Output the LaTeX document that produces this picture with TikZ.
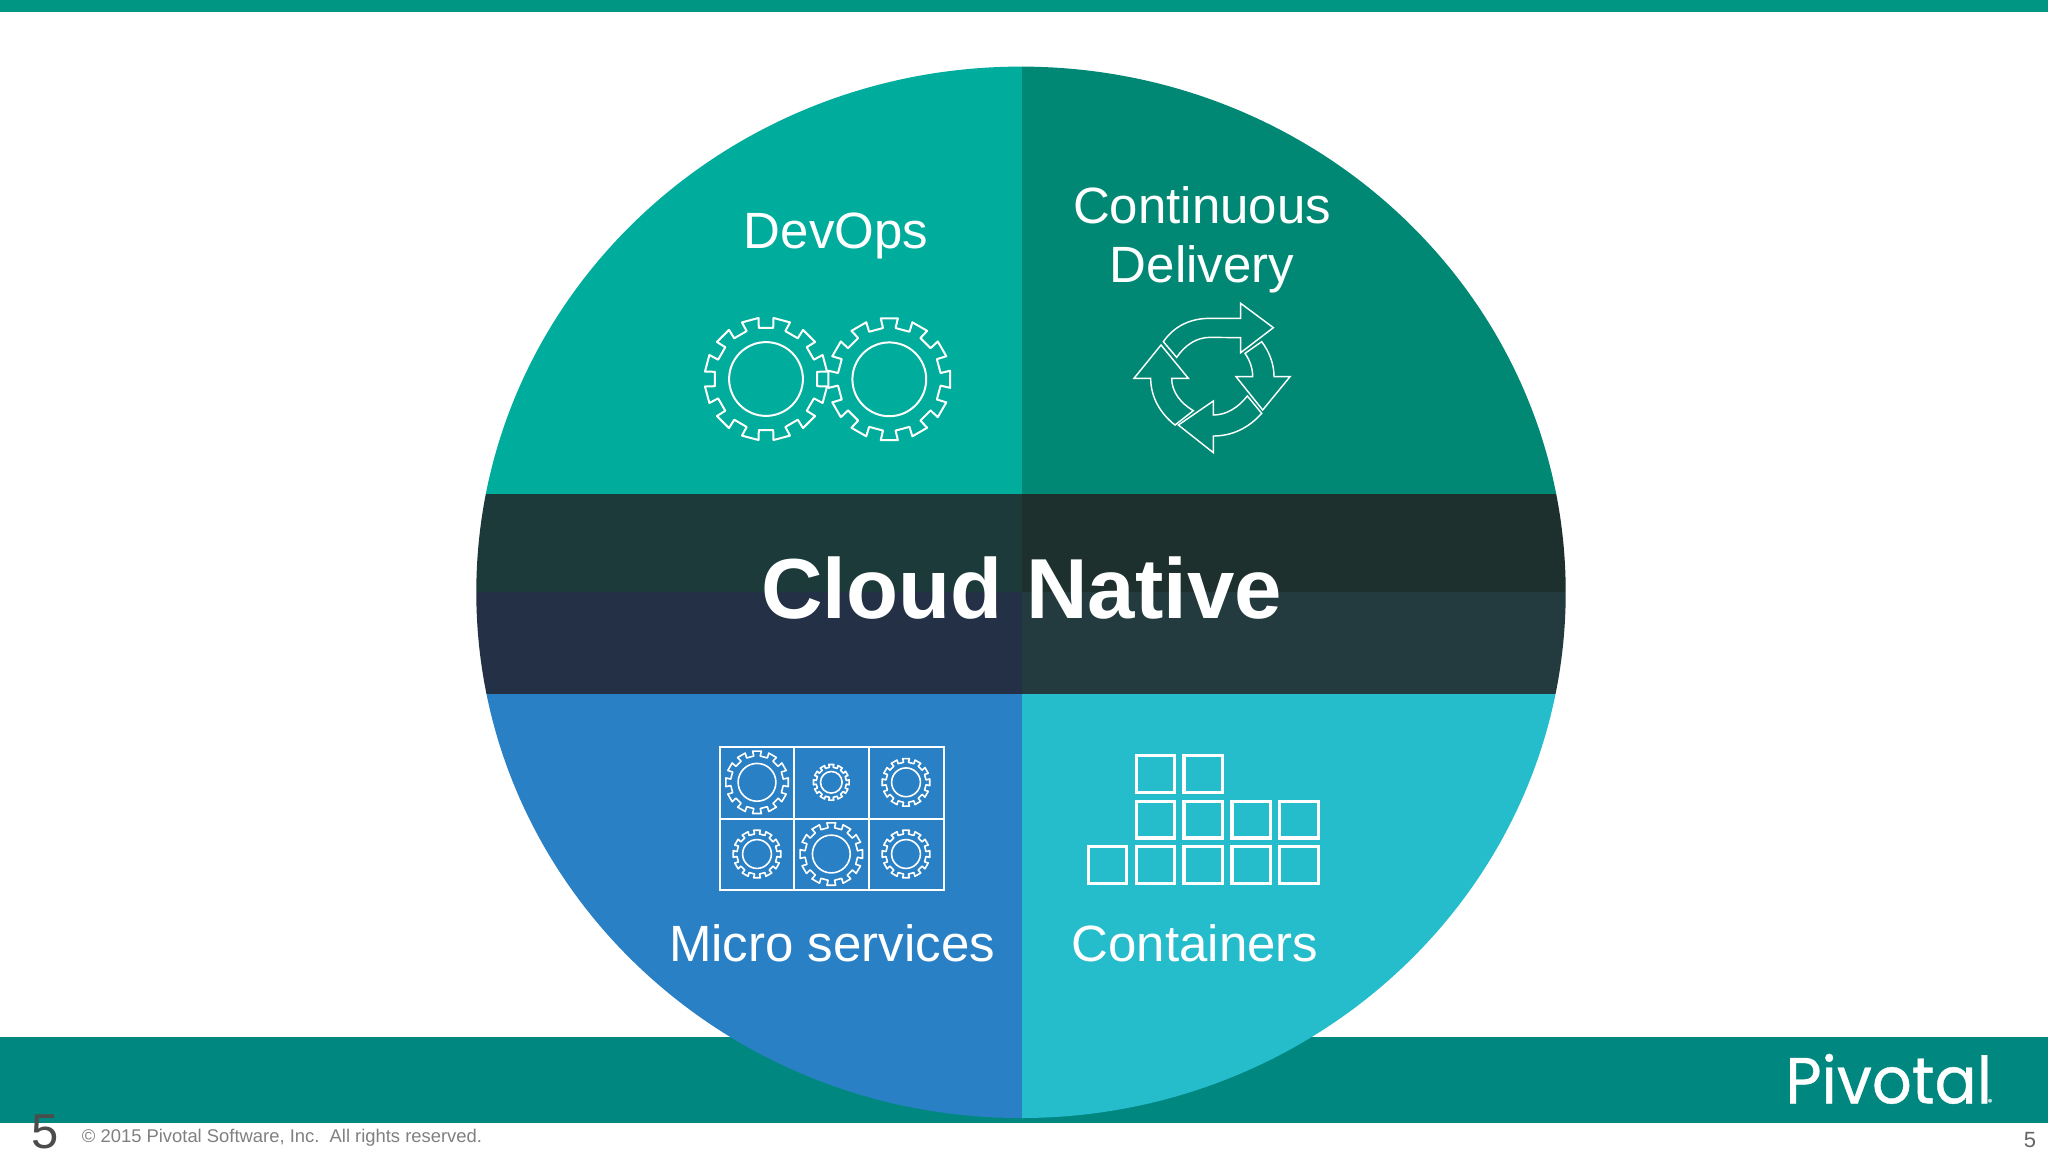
\documentclass[tikz,border=0pt]{standalone}
\usepackage{fontspec}
\setmainfont{Liberation Sans}
\newfontfamily\logofont[FakeBold=0.6,FakeStretch=0.96]{Poppins}
\definecolor{topbar}{HTML}{009684}
\definecolor{footband}{HTML}{008880}
\definecolor{qtl}{HTML}{00AC9C}
\definecolor{qtr}{HTML}{008874}
\definecolor{qbl}{HTML}{2A80C5}
\definecolor{qbr}{HTML}{25BCCB}
\definecolor{btl}{HTML}{1C3A39}
\definecolor{btr}{HTML}{1E302D}
\definecolor{bbl}{HTML}{233045}
\definecolor{bbr}{HTML}{233B3F}
\tikzset{
  gearline/.style={draw=white,line width=1pt,line join=round},
  smallgear/.style={draw=white,line width=0.8pt,line join=round},
  cycleline/.style={draw=white,line width=0.72pt,line join=miter},
  cellline/.style={draw=white,line width=0.95pt},
  boxline/.style={draw=white,line width=1.6pt},
  label/.style={text=white,anchor=base,inner sep=0pt,font=\fontsize{25.5}{30}\selectfont,align=center},
}
% #1 x, #2 y, #3 outer radius, #4 rotation, #5 style
\newcommand{\gearicon}[5]{%
  \begin{scope}[shift={(#1,#2)}]
    \draw[#5] ({#4-7}:{0.84*#3})
      foreach \k in {0,...,11} {
        -- ({#4+\k*30-7}:{0.84*#3}) -- ({#4+\k*30-8}:{#3})
        -- ({#4+\k*30+8}:{#3}) -- ({#4+\k*30+7}:{0.84*#3})
      } -- cycle;
    \draw[#5] (0,0) circle[radius={0.6*#3}];
  \end{scope}}
\begin{document}
\begin{tikzpicture}[x=0.5pt,y=-0.5pt]
\useasboundingbox (0,0) rectangle (2048,1152);
\fill[white] (0,0) rectangle (2048,1152);
\fill[topbar] (0,0) rectangle (2048,12);
\fill[footband] (0,1037) rectangle (2048,1123);
% disc
\begin{scope}
  \clip (1021,592.3) ellipse[x radius=544.7,y radius=525.7];
  \fill[qtl] (470,60) rectangle (1021.5,494);
  \fill[qtr] (1021.5,60) rectangle (1570,494);
  \fill[qbl] (470,694) rectangle (1021.5,1125);
  \fill[qbr] (1021.5,694) rectangle (1570,1125);
  \fill[btl] (470,494) rectangle (1021.5,592);
  \fill[btr] (1021.5,494) rectangle (1570,592);
  \fill[bbl] (470,592) rectangle (1021.5,694);
  \fill[bbr] (1021.5,592) rectangle (1570,694);
\end{scope}
% labels
\node[label] (devops) at (836,248) {DevOps};
\node[label] (cd1) at (1202,223) {Continuous};
\node[label] (cd2) at (1202,282.5) {Delivery};
\node[label,font=\fontsize{42.6}{50}\selectfont\bfseries] (cloud) at (1021.5,618) {Cloud Native};
\node[label] (micro) at (832,961.5) {Micro services};
\node[label] (cont) at (1195,961.5) {Containers};
% devops gears
\gearicon{766}{379}{61.5}{15}{gearline}
\gearicon{889.3}{379.3}{61.5}{0}{gearline}
% cycle arrows
\begin{scope}[shift={(1110,290)},x=0.16667pt,y=-0.16667pt]
  \draw[cycleline] (160,155) .. controls (195,105) and (245,85) .. (300,85) -- (392,85) -- (392,40) -- (490,113) -- (392,188) -- (392,143) -- (300,142) .. controls (260,142) and (225,165) .. (200,202) -- cycle;
  \draw[cycleline] (405,190) -- (455,155) .. controls (478,185) and (492,222) .. (492,260) -- (540,260) -- (458,360) -- (378,260) -- (428,260) .. controls (428,235) and (420,212) .. (405,190) -- cycle;
  \draw[cycleline] (412,318) -- (455,370) .. controls (415,415) and (365,438) .. (310,438) -- (310,488) -- (205,405) -- (310,333) -- (310,375) .. controls (350,375) and (385,352) .. (412,318) -- cycle;
  \draw[cycleline] (195,405) .. controls (150,370) and (122,320) .. (122,265) -- (72,265) -- (153,165) -- (235,265) -- (185,265) .. controls (185,305) and (212,340) .. (250,362) -- cycle;
\end{scope}
% microservices grid
\draw[cellline] (720,746.7) rectangle (943.7,890);
\draw[cellline] (794.3,746.7) -- (794.3,890);
\draw[cellline] (869,746.7) -- (869,890);
\draw[cellline] (720,818.7) -- (943.7,818.7);
\gearicon{757}{782.3}{31.5}{0}{smallgear}
\gearicon{831.3}{782.3}{18}{0}{smallgear}
\gearicon{906}{782.3}{24}{0}{smallgear}
\gearicon{757}{854}{24}{0}{smallgear}
\gearicon{831.3}{854}{31.5}{0}{smallgear}
\gearicon{906}{854}{24}{0}{smallgear}
% containers
\foreach \px/\py in {1155.5/774.2,1203.3/774.2,
    1155.5/819.7,1203.3/819.7,1251.3/819.7,1299.2/819.7,
    1107.5/865,1155.5/865,1203.3/865,1251.3/865,1299.2/865}
  \draw[boxline] (\px-19.35,\py-18.35) rectangle (\px+19.35,\py+18.35);
% footer
\node[text=white,anchor=base west,inner sep=0pt,font=\logofont\fontsize{32.5}{40}\selectfont] (logo) at (1785,1103.3) {Pivotal};
\fill[white!70!footband] (1990,1100.7) circle[radius=2];
\node[anchor=base,inner sep=0pt,text=black!70,font=\fontsize{24.5}{30}\selectfont] (bigfive) at (45.5,1148.5) {5};
\node[anchor=base west,inner sep=0pt,text=black!50,font=\fontsize{9.2}{12}\selectfont] (copy) at (81.5,1142.5) {© 2015 Pivotal Software, Inc.\ \ All rights reserved.};
\node[anchor=base,inner sep=0pt,text=black!60,font=\fontsize{11}{14}\selectfont] (smallfive) at (2030,1147) {5};
\end{tikzpicture}
\end{document}
